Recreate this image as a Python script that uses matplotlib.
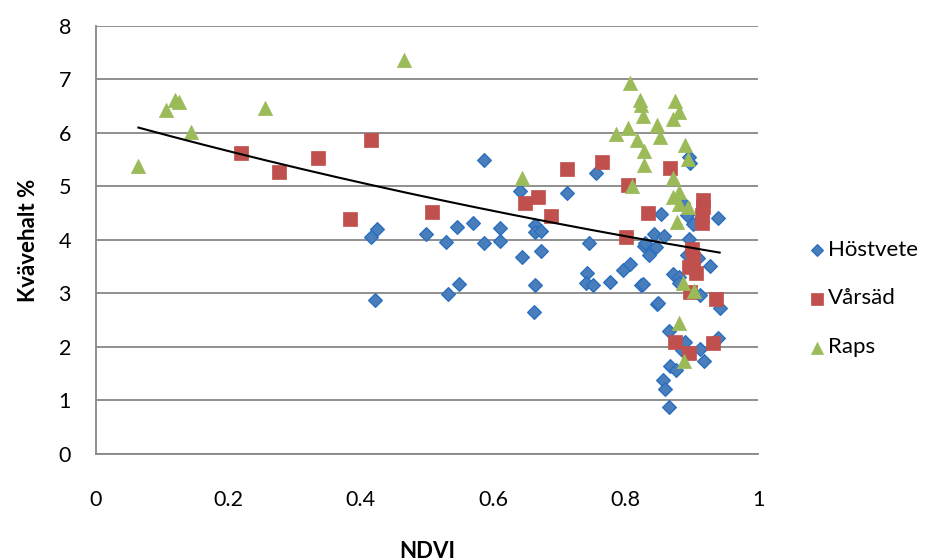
import matplotlib
matplotlib.use("Agg")
import matplotlib.pyplot as plt
import numpy as np

plt.rcParams["font.family"] = ["Lato", "DejaVu Sans"]

# Höstvete (blue diamonds)
host_x = [0.425, 0.415, 0.422, 0.498, 0.529, 0.546, 0.570, 0.586, 0.586, 0.610,
          0.610, 0.532, 0.549, 0.640, 0.643, 0.663, 0.663, 0.672, 0.672, 0.663,
          0.661, 0.711, 0.745, 0.755, 0.742, 0.740, 0.750, 0.776, 0.796, 0.806,
          0.823, 0.848, 0.853, 0.843, 0.858, 0.827, 0.836, 0.846, 0.830, 0.895,
          0.897, 0.887, 0.893, 0.939, 0.902, 0.896, 0.893, 0.909, 0.928, 0.872,
          0.880, 0.881, 0.826, 0.849, 0.912, 0.942, 0.865, 0.940, 0.885, 0.912,
          0.918, 0.867, 0.876, 0.856, 0.860, 0.865, 0.890]
host_y = [4.20, 4.06, 2.88, 4.11, 3.97, 4.24, 4.32, 5.50, 3.95, 4.22,
          3.98, 2.99, 3.18, 4.92, 3.69, 4.28, 4.14, 4.17, 3.80, 3.15,
          2.66, 4.87, 3.95, 5.26, 3.38, 3.19, 3.15, 3.22, 3.43, 3.55,
          3.15, 2.80, 4.49, 4.11, 4.07, 3.88, 3.72, 3.86, 3.95, 5.56,
          5.43, 4.70, 4.47, 4.42, 4.30, 4.01, 3.72, 3.66, 3.51, 3.36,
          3.31, 3.19, 3.18, 2.83, 2.97, 2.72, 2.30, 2.16, 1.94, 1.97,
          1.74, 1.65, 1.57, 1.38, 1.21, 0.88, 2.10]

# Vårsäd (red squares)
vars_x = [0.219, 0.276, 0.335, 0.384, 0.415, 0.507, 0.648, 0.667, 0.687, 0.712,
          0.765, 0.803, 0.801, 0.834, 0.867, 0.917, 0.917, 0.916, 0.915, 0.900,
          0.895, 0.907, 0.897, 0.937, 0.875, 0.932, 0.895, 0.902]
vars_y = [5.62, 5.28, 5.54, 4.39, 5.86, 4.52, 4.70, 4.81, 4.44, 5.32,
          5.45, 5.03, 4.06, 4.51, 5.35, 4.75, 4.62, 4.47, 4.31, 3.83,
          3.50, 3.39, 3.03, 2.89, 2.10, 2.08, 1.88, 3.65]

# Raps (green triangles)
raps_x = [0.064, 0.106, 0.120, 0.125, 0.143, 0.255, 0.465, 0.643, 0.807, 0.822,
          0.823, 0.826, 0.785, 0.804, 0.817, 0.828, 0.828, 0.847, 0.852, 0.875,
          0.881, 0.872, 0.889, 0.894, 0.809, 0.871, 0.872, 0.880, 0.880, 0.894,
          0.878, 0.887, 0.904, 0.881, 0.888]
raps_y = [5.39, 6.43, 6.62, 6.58, 6.02, 6.47, 7.36, 5.15, 6.93, 6.62,
          6.52, 6.32, 5.99, 6.09, 5.86, 5.67, 5.40, 6.15, 5.92, 6.60,
          6.40, 6.26, 5.78, 5.51, 5.00, 5.15, 4.81, 4.90, 4.67, 4.62,
          4.34, 3.19, 3.05, 2.45, 1.73]

# exponential trendline y = a * exp(b * x)
trend_a = 6.32
trend_b = -0.55

x_ticks = [0, 0.2, 0.4, 0.6, 0.8, 1]
x_tick_labels = ["0", "0.2", "0.4", "0.6", "0.8", "1"]
y_ticks = [0, 1, 2, 3, 4, 5, 6, 7, 8]

fig = plt.figure(figsize=(9.25, 5.6), dpi=100)
ax = fig.add_axes([0.1038, 0.1893, 0.7157, 0.7643])

ax.scatter(host_x, host_y, marker="D", s=48, color="#4a7ebb",
           edgecolors="#2a6fc0", linewidths=1.0, label="Höstvete", zorder=3)
ax.scatter(vars_x, vars_y, marker="s", s=115, color="#c0504d",
           edgecolors="#c0504d", linewidths=0.5, label="Vårsäd", zorder=3)
ax.scatter(raps_x, raps_y, marker="^", s=105, color="#9bbb59",
           edgecolors="#9bbb59", linewidths=0.5, label="Raps", zorder=3)

all_x = np.array(host_x + vars_x + raps_x)
xs = np.linspace(all_x.min(), all_x.max(), 200)
ax.plot(xs, trend_a * np.exp(trend_b * xs), color="black", lw=1.5, zorder=4)

ax.set_xlim(0, 1)
ax.set_ylim(0, 8)
ax.set_xticks(x_ticks)
ax.set_xticklabels(x_tick_labels)
ax.set_yticks(y_ticks)
ax.tick_params(axis="both", length=0, labelsize=15.5)
ax.tick_params(axis="x", pad=26)
ax.tick_params(axis="y", pad=18)
ax.grid(axis="y", color="#878787", lw=1.3)
ax.set_axisbelow(True)
for side in ["top", "right"]:
    ax.spines[side].set_visible(False)
for side in ["left", "bottom"]:
    ax.spines[side].set_color("#878787")
    ax.spines[side].set_linewidth(1.3)

ax.set_xlabel("NDVI", fontsize=16, fontweight="bold", labelpad=22)
ax.set_ylabel("Kvävehalt %", fontsize=16, fontweight="bold", labelpad=14)

fig.legend(*ax.get_legend_handles_labels(), loc="center left",
           bbox_to_anchor=(0.8757, 0.467), bbox_transform=fig.transFigure,
           frameon=False, fontsize=16, handlelength=0.6, handletextpad=0.2,
           borderpad=0, borderaxespad=0, labelspacing=1.3, markerscale=0.85)

fig.savefig("out.png", dpi=100)
